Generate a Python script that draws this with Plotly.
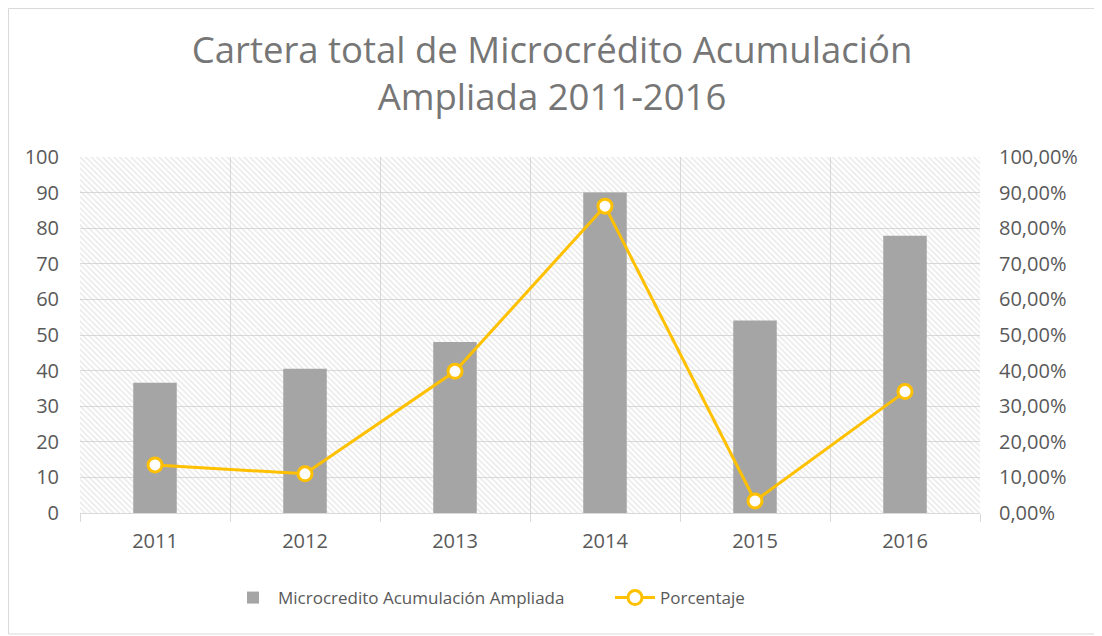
import plotly.graph_objects as go

years = ["2011", "2012", "2013", "2014", "2015", "2016"]
microcredito = [36.6, 40.5, 48.0, 90.0, 54.1, 77.9]
porcentaje = [0.135, 0.110, 0.398, 0.862, 0.034, 0.341]
left_max = 100

FONT = "Open Sans"
TXT = "#595959"
GRID = "#d9d9d9"

W, H = 1094, 628
L, R, T, B = 72, 122, 149, 123
pw, ph = W - L - R, H - T - B

fig = go.Figure()

# hatched plot-area background
fig.add_trace(go.Bar(
    x=years, y=[left_max] * len(years), width=1,
    marker=dict(color="rgba(0,0,0,0)", line=dict(width=0),
                pattern=dict(shape="\\", fgcolor="#cfcfcf", bgcolor="rgba(0,0,0,0)",
                             size=4, solidity=0.35, fillmode="overlay")),
    showlegend=False, hoverinfo="skip",
))

fig.add_trace(go.Bar(
    x=years, y=microcredito, width=0.29, name="Microcredito Acumulación Ampliada",
    marker=dict(color="#A5A5A5", line=dict(width=0)),
))

fig.add_trace(go.Scatter(
    x=years, y=porcentaje, name="Porcentaje", yaxis="y2",
    mode="lines+markers",
    line=dict(color="#FFC000", width=3),
    marker=dict(symbol="circle", size=14, color="white", line=dict(color="#FFC000", width=3)),
))

fig.update_layout(
    width=W, height=H,
    barmode="overlay",
    separators=",.",
    paper_bgcolor="white", plot_bgcolor="white",
    margin=dict(l=L, r=R, t=T, b=B),
    font=dict(family=FONT, color=TXT, size=18),
    title=dict(text="Cartera total de Microcrédito Acumulación<br>Ampliada 2011-2016",
               x=(552 - 8 - L) / pw, xref="paper", xanchor="center",
               y=1 - 55 / H, yanchor="middle",
               font=dict(family=FONT, size=36.5, color="#767676")),
    xaxis=dict(type="category", tickson="boundaries", showgrid=True, gridcolor=GRID,
               ticks="outside", ticklen=8, tickcolor=GRID, showline=True, linecolor=GRID,
               tickfont=dict(size=20, color=TXT), range=[-0.5, 5.5], ticklabelstandoff=10),
    yaxis=dict(range=[0, left_max], dtick=10, showgrid=True, gridcolor=GRID, zeroline=False,
               showline=False, tickfont=dict(size=20, color=TXT), ticks="", ticklabelstandoff=20),
    yaxis2=dict(range=[0, 1], dtick=0.1, tickformat=".2%", overlaying="y", side="right",
                showgrid=False, zeroline=False, showline=False,
                tickfont=dict(size=20, color=TXT), ticks="", ticklabelstandoff=18),
    legend=dict(orientation="h", x=(610 - 8 - L) / pw, xanchor="center",
                y=-(598 - 8 - (T + ph)) / ph, yanchor="middle",
                font=dict(size=17, color=TXT), itemwidth=40, traceorder="normal",
                entrywidth=327, entrywidthmode="pixels"),
    shapes=[dict(type="rect", xref="paper", yref="paper",
                 x0=(0.5 - L) / pw, x1=(W - 2 - L) / pw,
                 y0=-(H - 2 - (T + ph)) / ph, y1=(T + ph - 0.5) / ph,
                 line=dict(color=GRID, width=1), layer="below")],
)

fig.write_html("out.html")
